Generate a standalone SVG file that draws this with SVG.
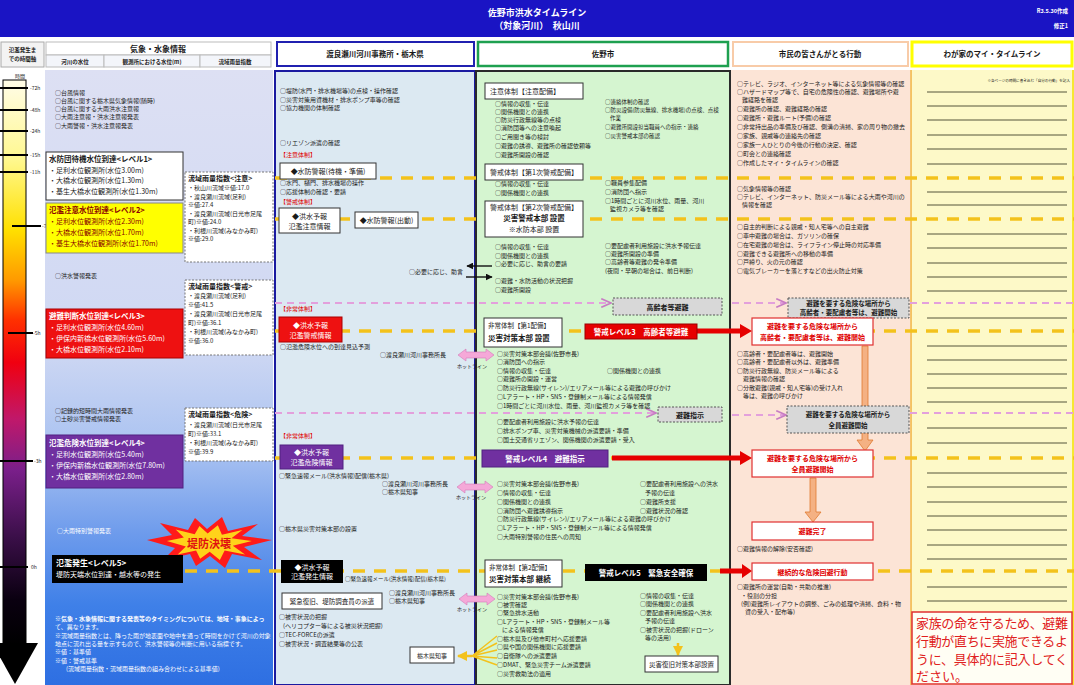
<svg xmlns="http://www.w3.org/2000/svg" width="1074" height="685" viewBox="0 0 1074 685">
<defs>
<style>
text{font-family:"Noto Sans CJK JP","Noto Sans CJK SC",sans-serif;font-size:6px;fill:#1a1a1a}
.s5{font-size:5px}.s55{font-size:5.5px}.s65{font-size:6.5px}.s7{font-size:7px}.s75{font-size:7.5px}.s8{font-size:8px}.s9{font-size:9px}
.b{font-weight:bold}.w{fill:#fff}.r{fill:#e00000}.dr{fill:#8a0000}.m{text-anchor:middle}.e{text-anchor:end}
.yd{stroke:#f3c21c;stroke-width:3.5;stroke-dasharray:12 9;fill:none}
.pd{stroke:#e3a0dc;stroke-width:1.8;stroke-dasharray:7 5;fill:none}
.rl{stroke:#55553a;stroke-width:1}
.box{fill:#fff;stroke:#333;stroke-width:1}
.dbox{fill:#fff;stroke:#777;stroke-width:1;stroke-dasharray:2 1.5}
.gbox{fill:#d8d8d8;stroke:#555;stroke-width:1;stroke-dasharray:2 1.5}
.rbox{fill:#fff;stroke:#e03030;stroke-width:1.2}
.tick{stroke:#000;stroke-width:2}
.hot{fill:#f5a8d8;stroke:#d47ab8;stroke-width:0.6}
.oa{fill:#f4b183;stroke:#e07a30;stroke-width:0.8}
</style>
<linearGradient id="gAxis" x1="0" y1="80" x2="0" y2="645" gradientUnits="userSpaceOnUse">
<stop offset="0" stop-color="#fffce8"/><stop offset="0.14" stop-color="#fff890"/><stop offset="0.265" stop-color="#ffe000"/><stop offset="0.354" stop-color="#ff9a00"/><stop offset="0.425" stop-color="#ff3000"/><stop offset="0.5" stop-color="#f00010"/><stop offset="0.6" stop-color="#c0186a"/><stop offset="0.69" stop-color="#7a1f8a"/><stop offset="0.81" stop-color="#3a0f48"/><stop offset="0.92" stop-color="#0a0010"/><stop offset="1" stop-color="#000"/>
</linearGradient>
<linearGradient id="gCol1" x1="0" y1="70" x2="0" y2="685" gradientUnits="userSpaceOnUse">
<stop offset="0" stop-color="#dde0f3"/><stop offset="0.45" stop-color="#cfd8f3"/><stop offset="0.62" stop-color="#a9c2f1"/><stop offset="0.75" stop-color="#6f9cec"/><stop offset="0.87" stop-color="#3f80e8"/><stop offset="1" stop-color="#2e6fe2"/>
</linearGradient>
<path id="hot" class="hot" d="M0 6 L8 0 L8 3 L28 3 L28 0 L36 6 L28 12 L28 9 L8 9 L8 12 Z"/>
<marker id="pa" viewBox="0 0 10 10" refX="9" refY="5" markerWidth="6" markerHeight="6" orient="auto"><path d="M0,1 L9,5 L0,9" fill="none" stroke="#c87cc4" stroke-width="1.5" stroke-dasharray="none"/></marker>
<marker id="ba" viewBox="0 0 10 10" refX="9" refY="5" markerWidth="5" markerHeight="5" orient="auto"><path d="M0,0 L10,5 L0,10 Z" fill="#111"/></marker>
<marker id="ya" viewBox="0 0 10 10" refX="9" refY="5" markerWidth="4" markerHeight="4" orient="auto"><path d="M0,0 L10,5 L0,10 Z" fill="#f3c21c"/></marker>
<polygon id="burst" points="147,540 172,535 160,523 188,530 195,518 207,529 222,517 228,531 258,524 242,536 272,540 244,547 262,560 232,554 225,568 210,556 196,566 190,554 163,560 175,548"/>
</defs>

<rect width="1074" height="685" fill="#fff"/>

<g id="title-band">
<rect x="0" y="0" width="1074" height="37" fill="#1a14c4"/>
<text x="537" y="16" class="s9 b w m">佐野市洪水タイムライン</text>
<text x="537" y="29" class="s9 b w m">（対象河川）　秋山川</text>
<text x="1068" y="13" class="s55 b w e">R3.5.30作成</text>
<text x="1068" y="28" class="s55 b w e">修正1</text>
</g>

<g id="headers">
<rect x="1" y="42" width="43" height="25" fill="#f3f3f3" stroke="#aaa"/>
<text x="22.5" y="52" class="s55 b m">氾濫発生ま</text>
<text x="22.5" y="61" class="s55 b m">での時間軸</text>
<rect x="46" y="42" width="225" height="13" fill="#fff" stroke="#bbb"/>
<text x="158" y="52" class="s8 b m">気象・水象情報</text>
<rect x="46" y="55" width="58" height="12" fill="#f3f5fa" stroke="#bbb"/>
<text x="75" y="64" class="s55 b m">河川の水位</text>
<rect x="104" y="55" width="96" height="12" fill="#f3f5fa" stroke="#bbb"/>
<text x="152" y="64" class="s55 b m">観測所における水位(m)</text>
<rect x="200" y="55" width="71" height="12" fill="#f3f5fa" stroke="#bbb"/>
<text x="235" y="64" class="s55 b m">流域雨量指数</text>
<rect x="277" y="42" width="197" height="24" fill="#fff" stroke="#2020b0" stroke-width="2"/>
<text x="375" y="57" class="s75 b m">渡良瀬川河川事務所・栃木県</text>
<rect x="478" y="42" width="250" height="24" fill="#fff" stroke="#1ea050" stroke-width="2.5"/>
<text x="603" y="57" class="s75 b m">佐野市</text>
<rect x="733" y="42" width="175" height="24" fill="#fff" stroke="#f8cba8" stroke-width="2"/>
<text x="820" y="57" class="s75 b m">市民の皆さんがとる行動</text>
<rect x="912" y="42" width="160" height="24" fill="#fff" stroke="#ffff00" stroke-width="3"/>
<text x="992" y="57" class="s75 b m">わが家のマイ・タイムライン</text>
</g>

<g id="column-backgrounds">
<rect x="45" y="70" width="228" height="615" fill="url(#gCol1)"/>
<rect x="275" y="71" width="200" height="614" fill="#dce9f2" stroke="#1a1aa0" stroke-width="2"/>
<rect x="476" y="71" width="254" height="614" fill="#d5f5d0" stroke="#2a2a2a" stroke-width="2"/>
<rect x="731" y="70" width="179" height="615" fill="#fce4d6"/>
<rect x="911" y="70" width="163" height="615" fill="#fdf9c8"/>
<line x1="911" y1="70" x2="911" y2="685" stroke="#f0b040" stroke-width="1.5"/>
<line x1="1073" y1="70" x2="1073" y2="685" stroke="#f5e000" stroke-width="1.5"/>
</g>

<g id="time-axis">
<text x="20" y="78" class="s5 m">時間</text>
<rect x="3" y="80" width="23" height="566" fill="url(#gAxis)" stroke="#000" stroke-width="1"/>
<polygon points="-8,643 38,643 15,684" fill="#000"/>
<line class="tick" x1="0" y1="88" x2="28" y2="88"/><text x="30" y="90" class="s5">-72h</text>
<line class="tick" x1="0" y1="110" x2="28" y2="110"/><text x="30" y="112" class="s5">-48h</text>
<line class="tick" x1="0" y1="131" x2="28" y2="131"/><text x="30" y="133" class="s5">-24h</text>
<line class="tick" x1="0" y1="155" x2="28" y2="155"/><text x="30" y="157" class="s5">-15h</text>
<line class="tick" x1="0" y1="172" x2="28" y2="172"/><text x="30" y="174" class="s5">-11h</text>
<line class="tick" x1="12" y1="226" x2="41" y2="226"/><text x="42" y="228" class="s5">-7h</text>
<line class="tick" x1="8" y1="333" x2="33" y2="333"/><text x="33" y="335" class="s5">-5h</text>
<line class="tick" x1="0" y1="461" x2="33" y2="461"/><text x="34" y="463" class="s5">-3h</text>
<line class="tick" x1="0" y1="567" x2="28" y2="567"/><text x="31" y="569" class="s5">0h</text>
</g>

<g id="ruled-lines">
<path class="rl" d="M927 92H1067M927 106H1067M927 120H1067M927 135H1067M927 149H1067M927 164H1067M927 192H1067M927 205H1067M927 234H1067M927 248H1067M927 263H1067M927 277H1067M927 291H1067M927 318H1067M927 346H1067M927 360H1067M927 374H1067M927 388H1067M927 402H1067M927 428H1067M927 443H1067M927 473H1067M927 487H1067M927 502H1067M927 516H1067M927 530H1067M927 545H1067M927 559H1067M927 587H1067M927 601H1067"/>
<text x="1070" y="82" class="e" style="font-size:3.6px">※各ページの時間に書き込む「自分の行動」を記入</text>
</g>

<g id="connectors">
<path class="yd" d="M275 178H1074M275 219H1074M275 331H1074M275 458H1074M185 571H1074"/>
<path class="pd" d="M275 303H611" marker-end="url(#pa)"/>
<path class="pd" d="M732 303H786" marker-end="url(#pa)"/>
<path class="pd" d="M910 303H1074"/>
<path class="pd" d="M275 413H656" marker-end="url(#pa)"/>
<path class="pd" d="M732 415H786" marker-end="url(#pa)"/>
<path class="pd" d="M910 413H1074"/>
<line x1="492" y1="266" x2="467" y2="266" stroke="#111" stroke-width="1.4" marker-end="url(#ba)"/>
<line x1="466" y1="277" x2="492" y2="277" stroke="#111" stroke-width="1.4" marker-end="url(#ba)"/>
<use href="#hot" x="458" y="349"/>
<text x="457" y="368" class="s5" fill="#333">ホットライン</text>
<use href="#hot" x="457" y="481"/>
<text x="456" y="499" class="s5" fill="#333">ホットライン</text>
<use href="#hot" x="459" y="593"/>
<text x="457" y="611" class="s5" fill="#333">ホットライン</text>
<path d="M697 328.5H740V324L752 331L740 338V333.5H697Z" fill="#e60000"/>
<path d="M612 455.5H740V451L752 458L740 465V460.5H612Z" fill="#e60000"/>
<path d="M720 568.5H742V564L752 571L742 578V573.5H720Z" fill="#e60000"/>
<path class="oa" d="M862 346H868V440H873L865 451L857 440H862Z"/>
<path class="oa" d="M810 478H816V512H821L813 522L805 512H810Z"/>
<path d="M497 636L472 656M497 643L472 656M497 650L472 656M497 658L472 656M497 665L472 656" stroke="#f3c21c" stroke-width="1.5" fill="none"/>
<line x1="472" y1="656" x2="458" y2="656" stroke="#f3c21c" stroke-width="2.5" marker-end="url(#ya)"/>
<line x1="678" y1="643" x2="678" y2="655" stroke="#f3c21c" stroke-width="2.5" marker-end="url(#ya)"/>
</g>

<g id="col1-weather">
<g id="n-typhoon">
<text x="55" y="95">○台風情報</text>
<text x="55" y="103">○台風に関する栃木県気象情報(随時)</text>
<text x="55" y="111">○台風に関する大雨洪水注意報</text>
<text x="55" y="119">○大雨注意報・洪水注意報発表</text>
<text x="55" y="128">○大雨警報・洪水注意報発表</text>
</g>
<g id="n-level1">
<rect x="46" y="152" width="137" height="48" class="box" stroke="#666"/>
<text x="49" y="162" class="s75 b">水防団待機水位到達&lt;レベル1&gt;</text>
<text x="49" y="173" class="s7">・足利水位観測所(水位3.00m)</text>
<text x="49" y="183" class="s7">・大橋水位観測所(水位1.30m)</text>
<text x="49" y="194" class="s7">・基生大橋水位観測所(水位1.30m)</text>
</g>
<g id="n-level2">
<rect x="46" y="203" width="137" height="50" fill="#ffff00" stroke="#888"/>
<text x="49" y="213" class="s75 b dr">氾濫注意水位到達&lt;レベル2&gt;</text>
<text x="49" y="224" class="s7 dr">・足利水位観測所(水位2.30m)</text>
<text x="49" y="235" class="s7 dr">・大橋水位観測所(水位1.70m)</text>
<text x="49" y="246" class="s7 dr">・基生大橋水位観測所(水位1.70m)</text>
</g>
<g id="n-rain-caution">
<rect x="185" y="172" width="88" height="90" class="dbox"/>
<text x="188" y="181" class="s7 b">流域雨量指数&lt;注意&gt;</text>
<text x="188" y="190">・秋山川流域※値:17.0</text>
<text x="188" y="198.5">・渡良瀬川流域(足利)</text>
<text x="188" y="207">※値:27.4</text>
<text x="188" y="215.5">・渡良瀬川流域(日光市足尾</text>
<text x="188" y="224">町)※値:24.0</text>
<text x="188" y="232.5">・利根川流域(みなかみ町)</text>
<text x="188" y="241">※値:29.0</text>
</g>
<text x="55" y="278">○洪水警報発表</text>
<g id="n-rain-warning">
<rect x="185" y="280" width="88" height="75" class="dbox"/>
<text x="188" y="289" class="s7 b">流域雨量指数&lt;警戒&gt;</text>
<text x="188" y="298">・渡良瀬川流域(足利)</text>
<text x="188" y="307">※値:41.5</text>
<text x="188" y="316">・渡良瀬川流域(日光市足尾</text>
<text x="188" y="325">町)※値:36.1</text>
<text x="188" y="334">・利根川流域(みなかみ町)</text>
<text x="188" y="343">※値:36.0</text>
</g>
<g id="n-level3">
<rect x="46" y="309" width="137" height="49" fill="#ee1111" stroke="#a00"/>
<text x="49" y="319" class="s75 b w">避難判断水位到達&lt;レベル3&gt;</text>
<text x="49" y="330" class="s7 w">・足利水位観測所(水位4.60m)</text>
<text x="49" y="341" class="s7 w">・伊保内新橋水位観測所(水位5.60m)</text>
<text x="49" y="352" class="s7 w">・大橋水位観測所(水位2.10m)</text>
</g>
<text x="55" y="413">○記録的短時間大雨情報発表</text>
<text x="55" y="421">○土砂災害警戒情報発表</text>
<g id="n-rain-danger">
<rect x="185" y="408" width="88" height="53" class="dbox"/>
<text x="188" y="417" class="s7 b">流域雨量指数&lt;危険&gt;</text>
<text x="188" y="427">・渡良瀬川流域(日光市足尾</text>
<text x="188" y="436">町)※値:33.1</text>
<text x="188" y="445">・利根川流域(みなかみ町)</text>
<text x="188" y="454">※値:39.9</text>
</g>
<g id="n-level4">
<rect x="46" y="435" width="137" height="53" fill="#7030a0" stroke="#502080"/>
<text x="49" y="446" class="s75 b w">氾濫危険水位到達&lt;レベル4&gt;</text>
<text x="49" y="457" class="s7 w">・足利水位観測所(水位5.40m)</text>
<text x="49" y="468" class="s7 w">・伊保内新橋水位観測所(水位7.80m)</text>
<text x="49" y="479" class="s7 w">・大橋水位観測所(水位2.80m)</text>
</g>
<text x="57" y="533" class="w">○大雨特別警報発表</text>
<g id="n-burst">
<use href="#burst" fill="#ff1a1a"/>
<use href="#burst" fill="#ffd21a" transform="translate(209 543) scale(0.68) translate(-209 -543)"/>
<text x="209" y="548" class="b m" style="font-size:11px;fill:#e01010">堤防決壊</text>
</g>
<g id="n-level5">
<rect x="52" y="555" width="131" height="28" fill="#000"/>
<text x="56" y="566" class="s8 b w">氾濫発生&lt;レベル5&gt;</text>
<text x="56" y="577" class="s7 w">堤防天端水位到達・越水等の発生</text>
</g>
<g id="n-notes">
<text x="55" y="621" class="b w">※気象・水象情報に関する発表等のタイミングについては、地域・事象によっ</text>
<text x="55" y="628.5" class="w">て、異なります。</text>
<text x="55" y="638" class="w">※流域雨量指数とは、降った雨が地表面や地中を通って時間をかけて河川の対象</text>
<text x="55" y="645.5" class="w">地点に流れ出る量を示すもので、洪水警報等の判断に用いる指標です。</text>
<text x="55" y="654" class="w">※値：基準値</text>
<text x="55" y="662.5" class="w">※値：警戒基準</text>
<text x="66" y="671" class="w">(流域雨量指数・流域雨量指数の組み合わせによる基準値)</text>
</g>
</g>

<g id="col2-river-office">
<text x="280" y="93">○堤防(水門・排水機場等)の点検・操作確認</text>
<text x="280" y="102">○災害対策用資機材・排水ポンプ車等の確認</text>
<text x="280" y="110">○協力機関の体制確認</text>
<text x="280" y="145">○リエゾン派遣の確認</text>
<text x="280" y="157" class="r">【注意体制】</text>
<g id="n-flood-standby"><rect x="280" y="163" width="96" height="16" class="box"/><text x="328" y="174" class="s7 m">◆水防警報(待機・準備)</text></g>
<text x="280" y="185">○水門、樋門、排水機場の操作</text>
<text x="280" y="194">○応援体制の確認・要請</text>
<text x="280" y="204" class="r">【警戒体制】</text>
<g id="n-forecast-caution"><rect x="279" y="208" width="61" height="25" class="box"/><text x="309.5" y="218.5" class="s7 m">◆洪水予報</text><text x="309.5" y="228.5" class="s7 m">氾濫注意情報</text></g>
<g id="n-flood-dispatch"><rect x="355" y="212" width="63" height="16" class="box"/><text x="386.5" y="223" class="s7 m">◆水防警報(出動)</text></g>
<text x="409" y="274">○必要に応じ、助言</text>
<text x="280" y="311" class="r">【非常体制】</text>
<g id="n-forecast-warning"><rect x="279" y="317" width="63" height="25" fill="#ee1111" stroke="#a00"/><text x="310.5" y="327.5" class="s7 m w">◆洪水予報</text><text x="310.5" y="337.5" class="s7 m w">氾濫警戒情報</text></g>
<text x="280" y="349">○氾濫危険水位への到達見込予測</text>
<text x="380" y="357">○渡良瀬川河川事務所長</text>
<text x="280" y="438" class="r">【非常体制】</text>
<g id="n-forecast-danger"><rect x="280" y="445" width="63" height="24" fill="#7030a0" stroke="#502080"/><text x="311.5" y="455" class="s7 m w">◆洪水予報</text><text x="311.5" y="465" class="s7 m w">氾濫危険情報</text></g>
<text x="279" y="478">○緊急速報メール(洪水情報)配信(栃木県)</text>
<text x="382" y="486">○渡良瀬川河川事務所長</text>
<text x="382" y="494">○栃木県知事</text>
<text x="279" y="531">○栃木県災害対策本部の設置</text>
<g id="n-forecast-occur"><rect x="281" y="560" width="62" height="23" fill="#000"/><text x="312" y="569.5" class="s7 m w">◆洪水予報</text><text x="312" y="579" class="s7 m w">氾濫発生情報</text></g>
<text x="345" y="581" class="s55">○緊急速報メール(洪水情報)配信(栃木県)</text>
<g id="n-emergency"><rect x="282" y="593" width="100" height="16" class="box"/><text x="332" y="604" class="s65 m">緊急復旧、堤防調査員の派遣</text></g>
<text x="389" y="595">○渡良瀬川河川事務所長</text>
<text x="389" y="603">○栃木県知事</text>
<text x="279" y="619">○被害状況の把握</text>
<text x="283" y="628">(ヘリコプター等による被災状況把握)</text>
<text x="279" y="637">○TEC-FORCEの派遣</text>
<text x="279" y="646">○被害状況・調査結果等の公表</text>
<g id="n-governor"><rect x="410" y="647" width="44" height="16" class="box"/><text x="432" y="658" class="m">栃木県知事</text></g>
</g>

<g id="col3-sano">
<g id="n-caution-setup"><rect x="485" y="83" width="98" height="16" class="box"/><text x="490" y="94" class="s7">注意体制【注意配備】</text></g>
<text x="495" y="106">○情報の収集・伝達</text>
<text x="495" y="114">○関係機関との連携</text>
<text x="495" y="122">○防災行政無線等の点検</text>
<text x="495" y="130">○消防団等への注意喚起</text>
<text x="495" y="139">○ご用聞き等の検討</text>
<text x="495" y="148">○避難の誘導、避難所の確認依頼等</text>
<text x="495" y="157">○避難所開設の確認</text>
<text x="605" y="104" class="s55">○連絡体制の確認</text>
<text x="605" y="112" class="s55">○防災設備(防災無線、排水機場)の点検、点検</text>
<text x="610" y="120" class="s55">作業</text>
<text x="605" y="129" class="s55">○避難所開設担当職員への指示・連絡</text>
<text x="605" y="138" class="s55">○災害警戒本部の確認</text>
<g id="n-alert1"><rect x="485" y="164" width="98" height="16" class="box"/><text x="490" y="175" class="s7">警戒体制【第1次警戒配備】</text></g>
<text x="495" y="186">○情報の収集・伝達</text>
<text x="495" y="195">○関係機関との連携</text>
<text x="605" y="185">○職員参集配備</text>
<text x="605" y="194">○消防団へ指示</text>
<text x="605" y="203">○1時間ごとに河川水位、雨量、河川</text>
<text x="610" y="211">監視カメラ等を確認</text>
<g id="n-alert2"><rect x="485" y="201" width="98" height="36" class="box"/><text x="490" y="210" class="s7">警戒体制【第2次警戒配備】</text><text x="534" y="221" class="s75 b m">災害警戒本部 設置</text><text x="534" y="232" class="s7 m">※水防本部 設置</text></g>
<text x="495" y="249">○情報の収集・伝達</text>
<text x="495" y="258">○関係機関との連携</text>
<text x="495" y="266">○必要に応じ、助言の要請</text>
<text x="495" y="283">○避難・水防活動の状況把握</text>
<text x="495" y="292">○避難所開設</text>
<text x="605" y="248">○要配慮者利用施設に洪水予報伝達</text>
<text x="605" y="256">○避難所開設の準備</text>
<text x="605" y="264">○高齢者等避難の発令準備</text>
<text x="605" y="273">(夜間・早朝の場合は、前日判断)</text>
<g id="n-elderly-grey"><rect x="613" y="298" width="109" height="17" class="gbox"/><text x="667.5" y="309.5" class="s7 b m">高齢者等避難</text></g>
<g id="n-emergency1"><rect x="484" y="318" width="78" height="29" class="box"/><text x="488" y="328" class="s65">非常体制【第1配備】</text><text x="488" y="341" class="s75 b">災害対策本部 設置</text></g>
<g id="n-alert-level3"><rect x="585" y="324" width="112" height="15" fill="#e60000" stroke="#900"/><text x="641" y="334.5" class="s75 b m w">警戒レベル3　高齢者等避難</text></g>
<text x="497" y="356">○災害対策本部会議(佐野市長)</text>
<text x="497" y="364">○消防団への指示</text>
<text x="497" y="373">○情報の収集・伝達</text>
<text x="607" y="373">○関係機関との連携</text>
<text x="497" y="381">○避難所の開設・運営</text>
<text x="497" y="390">○防災行政無線(サイレン)/エリアメール等による避難の呼びかけ</text>
<text x="497" y="399">○Lアラート・HP・SNS・登録制メール等による情報発信</text>
<text x="497" y="408">○1時間ごとに河川水位、雨量、河川監視カメラ等を確認</text>
<g id="n-evac-grey"><rect x="658" y="407" width="64" height="15" class="gbox"/><text x="690" y="417.5" class="s7 b m">避難指示</text></g>
<text x="497" y="424">○要配慮者利用施設に洪水予報の伝達</text>
<text x="497" y="433">○排水ポンプ車、災害対策機械の派遣要請・準備</text>
<text x="497" y="442">○国土交通省リエゾン、関係機関の派遣要請・受入</text>
<g id="n-alert-level4"><rect x="482" y="450" width="126" height="17" fill="#7030a0" stroke="#502080"/><text x="545" y="461.5" class="s75 b m w">警戒レベル4　避難指示</text></g>
<text x="497" y="486">○災害対策本部会議(佐野市長)</text>
<text x="497" y="495">○情報の収集・伝達</text>
<text x="497" y="504">○関係機関との連携</text>
<text x="497" y="513">○消防団へ避難誘導指示</text>
<text x="497" y="521">○防災行政無線(サイレン)/エリアメール等による避難の呼びかけ</text>
<text x="497" y="530">○Lアラート・HP・SNS・登録制メール等による情報発信</text>
<text x="497" y="539">○大雨特別警報の住民への周知</text>
<text x="640" y="486">○要配慮者利用施設への洪水</text>
<text x="645" y="495">予報の伝達</text>
<text x="640" y="504">○避難所支援</text>
<text x="640" y="513">○避難状況の確認</text>
<g id="n-emergency2"><rect x="485" y="560" width="77" height="27" class="box"/><text x="489" y="570" class="s65">非常体制【第2配備】</text><text x="489" y="582" class="s75 b">災害対策本部 継続</text></g>
<g id="n-alert-level5"><rect x="585" y="564" width="122" height="17" fill="#000"/><text x="646" y="575.5" class="s75 b m w">警戒レベル5　緊急安全確保</text></g>
<text x="497" y="599">○災害対策本部会議(佐野市長)</text>
<text x="497" y="607">○被害確認</text>
<text x="497" y="615">○緊急排水活動</text>
<text x="497" y="624">○Lアラート・HP・SNS・登録制メール等</text>
<text x="502" y="632">による情報発信</text>
<text x="497" y="641">○栃木県及び他市町村へ応援要請</text>
<text x="497" y="649">○県や国の関係機関に応援要請</text>
<text x="497" y="658">○自衛隊への派遣要請</text>
<text x="497" y="667">○DMAT、緊急災害チーム派遣要請</text>
<text x="497" y="676">○災害救助法の適用</text>
<text x="640" y="598">○情報の収集・伝達</text>
<text x="640" y="606">○関係機関との連携</text>
<text x="640" y="615">○要配慮者利用施設へ洪水</text>
<text x="645" y="623">予報の伝達</text>
<text x="640" y="632">○被害状況の把握(ドローン</text>
<text x="645" y="640">等の活用)</text>
<g id="n-recovery"><rect x="645" y="656" width="73" height="16" class="box"/><text x="681.5" y="667" class="s65 m">災害復旧対策本部設置</text></g>
</g>

<g id="col4-citizens">
<text x="737" y="86">○テレビ、ラジオ、インターネット等による気象情報等の確認</text>
<text x="737" y="94">○ハザードマップ等で、自宅の危険性の確認、避難場所や避</text>
<text x="742" y="102">難経路を確認</text>
<text x="737" y="111">○避難所の確認、避難経路の確認</text>
<text x="737" y="120">○避難所・避難ルート(予備)の確認</text>
<text x="737" y="129">○非常持出品の準備及び確認、側溝の清掃、家の周り物の撤去</text>
<text x="737" y="138">○家族、親戚等の連絡先の確認</text>
<text x="737" y="147">○家族一人ひとりの今後の行動の決定、確認</text>
<text x="737" y="156">○町会との連絡確認</text>
<text x="737" y="165">○作成したマイ・タイムラインの確認</text>
<text x="737" y="191">○気象情報等の確認</text>
<text x="737" y="199">○テレビ、インターネット、防災メール等による大雨や河川の</text>
<text x="742" y="207">情報を確認</text>
<text x="737" y="229">○自主的判断による親戚・知人宅等への自主避難</text>
<text x="737" y="238">○車中避難の場合は、ガソリンの確保</text>
<text x="737" y="247">○在宅避難の場合は、ライフライン停止時の対応準備</text>
<text x="737" y="256">○避難できる避難所への移動の準備</text>
<text x="737" y="264">○戸締り、火の元の確認</text>
<text x="737" y="273">○電気ブレーカーを落とすなどの出火防止対策</text>
<g id="n-elderly-start-grey"><rect x="788" y="298" width="121" height="20" class="gbox"/><text x="848.5" y="306" class="s65 b m">避難を要する危険な場所から</text><text x="848.5" y="315" class="s65 b m">高齢者・要配慮者等は、避難開始</text></g>
<g id="n-elderly-start"><rect x="752" y="318" width="121" height="27" class="rbox"/><text x="812.5" y="329" class="s7 b m r">避難を要する危険な場所から</text><text x="812.5" y="340" class="s7 b m r">高齢者・要配慮者等は、避難開始</text></g>
<text x="737" y="356">○高齢者・要配慮者等は、避難開始</text>
<text x="737" y="364">○高齢者・要配慮者以外は、避難準備</text>
<text x="737" y="373">○防災行政無線、防災メール等による</text>
<text x="743" y="381">避難情報の確認</text>
<text x="737" y="390">○分散避難(親戚・知人宅等)の受け入れ</text>
<text x="743" y="398">等は、避難の呼びかけ</text>
<g id="n-all-start-grey"><rect x="787" y="406" width="122" height="27" class="gbox"/><text x="848" y="417" class="s65 b m">避難を要する危険な場所から</text><text x="848" y="428" class="s65 b m">全員避難開始</text></g>
<g id="n-all-start"><rect x="752" y="450" width="121" height="27" class="rbox"/><text x="812.5" y="461" class="s7 b m r">避難を要する危険な場所から</text><text x="812.5" y="472" class="s7 b m r">全員避難開始</text></g>
<g id="n-evac-done"><rect x="752" y="522" width="121" height="18" class="rbox"/><text x="812.5" y="534" class="s7 b m r">避難完了</text></g>
<text x="737" y="551">○避難情報の解除(安否確認)</text>
<g id="n-continue"><rect x="752" y="563" width="121" height="17" class="rbox"/><text x="812.5" y="574.5" class="s7 b m r">継続的な危険回避行動</text></g>
<text x="737" y="589">○避難所の運営(自助・共助の推進)</text>
<text x="741" y="598">・役割の分担</text>
<text x="741" y="606">(例)避難所レイアウトの調整、ごみの処理や清掃、食料・物</text>
<text x="745" y="614">資の受入・配布等)</text>
</g>

<g id="col5-my-timeline">
<g id="n-note">
<rect x="912" y="612" width="160" height="72" fill="#fffef4" stroke="#e03030" stroke-width="1.5"/>
<text x="916" y="628" textLength="152" style="font-size:13px;fill:#e02020">家族の命を守るため、避難</text>
<text x="916" y="646" textLength="152" style="font-size:13px;fill:#e02020">行動が直ちに実施できるよ</text>
<text x="916" y="664" textLength="152" style="font-size:13px;fill:#e02020">うに、具体的に記入してく</text>
<text x="916" y="681" style="font-size:13px;fill:#e02020">ださい。</text>
</g>
</g>
</svg>
